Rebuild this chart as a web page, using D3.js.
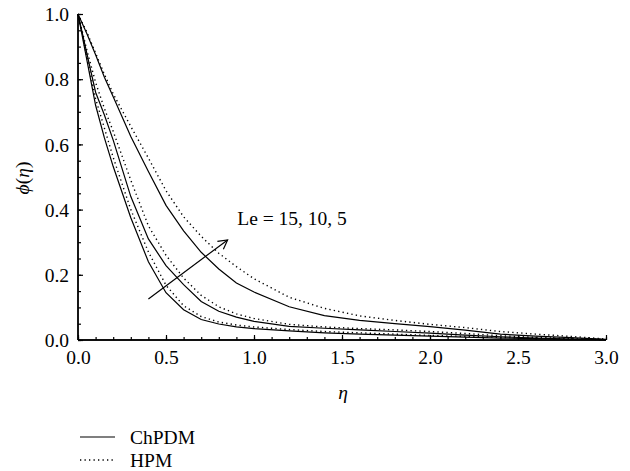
<!DOCTYPE html>
<html>
<head>
<meta charset="utf-8">
<script src="https://cdn.jsdelivr.net/npm/d3@7"></script>
<style>
  body { margin: 0; background: #fff; }
  svg { display: block; }
  text { font-family: "Liberation Serif", "Times New Roman", serif; fill: #000; }
</style>
</head>
<body>
<svg id="chart" width="630" height="471"></svg>
<script>
// ---- data ----
const eta = [0, 0.05, 0.1, 0.15, 0.2, 0.3, 0.4, 0.5, 0.6, 0.7, 0.8, 0.9, 1.0, 1.2, 1.4, 1.6, 1.8, 2.0, 2.2, 2.4, 2.6, 2.8, 3.0];
const chpdmLe5  = [1.0, 0.94, 0.875, 0.806, 0.746, 0.624, 0.517, 0.413, 0.335, 0.269, 0.218, 0.175, 0.147, 0.102, 0.075, 0.060, 0.050, 0.041, 0.030, 0.018, 0.012, 0.007, 0.002];
const hpmLe5    = [1.0, 0.945, 0.88, 0.815, 0.755, 0.655, 0.558, 0.458, 0.378, 0.318, 0.266, 0.225, 0.188, 0.131, 0.097, 0.074, 0.060, 0.048, 0.038, 0.026, 0.018, 0.011, 0.003];
const chpdmLe10 = [1.0, 0.88, 0.76, 0.69, 0.613, 0.44, 0.31, 0.228, 0.17, 0.118, 0.088, 0.070, 0.057, 0.042, 0.036, 0.031, 0.026, 0.021, 0.015, 0.010, 0.006, 0.003, 0.001];
const hpmLe10   = [1.0, 0.89, 0.79, 0.71, 0.64, 0.49, 0.35, 0.26, 0.19, 0.137, 0.102, 0.080, 0.066, 0.048, 0.040, 0.035, 0.031, 0.026, 0.020, 0.013, 0.008, 0.004, 0.001];
const chpdmLe15 = [1.0, 0.86, 0.72, 0.62, 0.532, 0.375, 0.24, 0.145, 0.093, 0.063, 0.049, 0.040, 0.035, 0.028, 0.022, 0.018, 0.015, 0.012, 0.009, 0.006, 0.004, 0.002, 0.001];
const hpmLe15   = [1.0, 0.87, 0.74, 0.65, 0.56, 0.40, 0.27, 0.168, 0.105, 0.072, 0.055, 0.046, 0.040, 0.032, 0.026, 0.022, 0.018, 0.014, 0.011, 0.008, 0.005, 0.003, 0.001];
const xTicks = [0, 0.5, 1.0, 1.5, 2.0, 2.5, 3.0];
const yTicks = [0, 0.2, 0.4, 0.6, 0.8, 1.0];
const legendLabels = ["ChPDM", "HPM"];
const annotationText = "Le = 15, 10, 5";
const arrowFrom = [0.40, 0.126];
const arrowTo = [0.85, 0.307];
const labelAt = [0.905, 0.353];

// ---- layout ----
const svg = d3.select("#chart");
const x = d3.scaleLinear().domain([0, 3]).range([78, 606]);
const y = d3.scaleLinear().domain([0, 1]).range([340, 14]);
const FONT = "'Liberation Serif', 'Times New Roman', serif";

const series = [
  { v: chpdmLe5, dash: null }, { v: hpmLe5, dash: "1.3,3.2" },
  { v: chpdmLe10, dash: null }, { v: hpmLe10, dash: "1.3,3.2" },
  { v: chpdmLe15, dash: null }, { v: hpmLe15, dash: "1.3,3.2" }
];
const line = d3.line().x(d => x(d[0])).y(d => y(d[1])).curve(d3.curveLinear);

svg.append("g").selectAll("path").data(series).join("path")
  .attr("d", s => line(eta.map((e, i) => [e, s.v[i]])))
  .attr("fill", "none").attr("stroke", "#000")
  .attr("stroke-width", s => s.dash ? 1.4 : 1.2)
  .attr("stroke-dasharray", s => s.dash);

// axes
const fontSize = 19.5;
const xMinor = d3.range(0, 3.0001, 0.1);
const yMinor = d3.range(0, 1.0001, 0.05);
const gx = svg.append("g").attr("transform", `translate(0,${y(0)})`);
gx.call(d3.axisBottom(x).tickValues(xMinor).tickSize(-3).tickFormat(""));
gx.call(g => g.append("g").call(d3.axisBottom(x).tickValues(xTicks).tickSize(-5).tickFormat(d3.format(".1f"))));
gx.selectAll("path.domain").attr("d", `M${x(0)},0H${x(3)}`).attr("stroke-width", 1.4);
gx.selectAll("line").attr("stroke-width", 1.2);
gx.selectAll("text").style("font-family", FONT).style("font-size", fontSize + "px").attr("y", 10).attr("dy", "0.71em");

const gy = svg.append("g").attr("transform", `translate(${x(0)},0)`);
gy.call(d3.axisLeft(y).tickValues(yMinor).tickSize(-3).tickFormat(""));
gy.call(g => g.append("g").call(d3.axisLeft(y).tickValues(yTicks).tickSize(-5).tickFormat(d3.format(".1f"))));
gy.selectAll("path.domain").attr("d", `M0,${y(1)}V${y(0)}`).attr("stroke-width", 1.4);
gy.selectAll("line").attr("stroke-width", 1.2);
gy.selectAll("text").style("font-family", FONT).style("font-size", fontSize + "px").attr("x", -9).attr("dy", "0.34em");

// axis titles
svg.append("text").attr("x", 343).attr("y", 399).attr("text-anchor", "middle")
  .style("font-size", fontSize + "px").attr("font-style", "italic").text("η");
const yt = svg.append("text").attr("transform", "translate(29,178) rotate(-90)")
  .attr("text-anchor", "middle").style("font-size", fontSize + "px");
yt.append("tspan").attr("font-style", "italic").text("ϕ");
yt.append("tspan").text("(");
yt.append("tspan").attr("font-style", "italic").text("η");
yt.append("tspan").text(")");

// annotation arrow
svg.append("defs").append("marker").attr("id", "ah").attr("viewBox", "-10 -6 12 12")
  .attr("refX", 0).attr("refY", 0).attr("markerWidth", 12).attr("markerHeight", 12)
  .attr("markerUnits", "userSpaceOnUse").attr("orient", "auto")
  .append("path").attr("d", "M-9,-5L0,0L-9,5").attr("fill", "none").attr("stroke", "#000").attr("stroke-width", 1.2);
svg.append("line")
  .attr("x1", x(arrowFrom[0])).attr("y1", y(arrowFrom[1]))
  .attr("x2", x(arrowTo[0])).attr("y2", y(arrowTo[1]))
  .attr("stroke", "#000").attr("stroke-width", 1.2).attr("marker-end", "url(#ah)");
svg.append("text").attr("x", x(labelAt[0])).attr("y", y(labelAt[1]))
  .style("font-size", fontSize + "px").text(annotationText);

// legend
const lg = svg.append("g");
legendLabels.forEach((lab, i) => {
  const yy = 437 + i * 23;
  lg.append("line").attr("x1", 80).attr("x2", 115).attr("y1", yy).attr("y2", yy)
    .attr("stroke", "#000").attr("stroke-width", i ? 1.4 : 1.2)
    .attr("stroke-dasharray", i ? "1.3,3.2" : null);
  lg.append("text").attr("x", 130).attr("y", yy + 6.5).style("font-size", fontSize + "px").text(lab);
});
</script>
</body>
</html>
